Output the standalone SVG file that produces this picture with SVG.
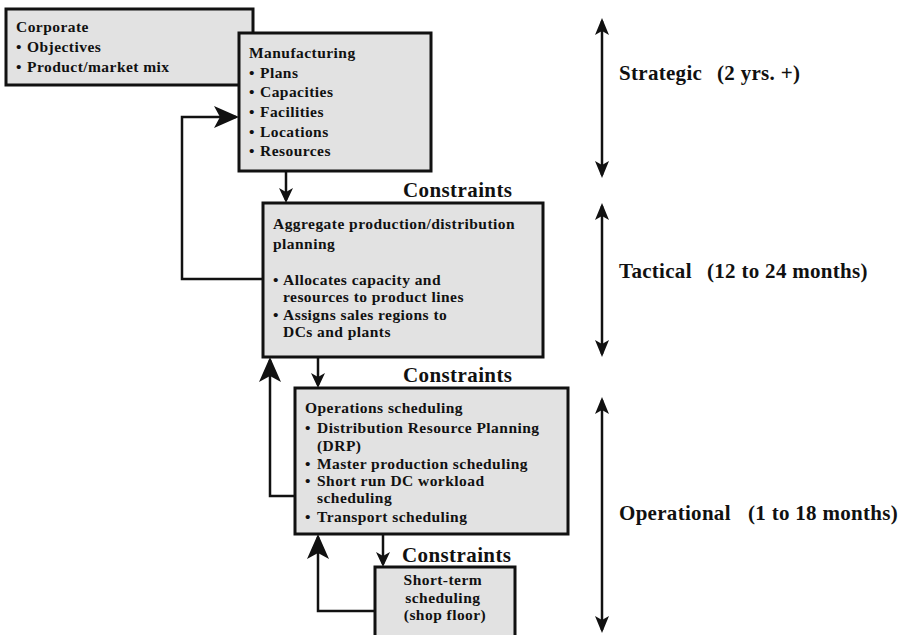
<svg xmlns="http://www.w3.org/2000/svg" width="907" height="635" viewBox="0 0 907 635">
  <style>
    .box { fill: #e2e2e2; stroke: #111; stroke-width: 3; }
    .t { font-family: "Liberation Serif", "Times New Roman", serif; font-weight: bold; font-size: 15.5px; letter-spacing: 0.45px; fill: #111; }
    .big { font-family: "Liberation Serif", "Times New Roman", serif; font-weight: bold; font-size: 21px; letter-spacing: 0.3px; fill: #111; }
    .con { font-family: "Liberation Serif", "Times New Roman", serif; font-weight: bold; font-size: 21px; letter-spacing: 0.4px; fill: #111; }
    .ln { fill: none; stroke: #111; stroke-width: 2.5; }
    .mid { text-anchor: middle; }
  </style>
  <defs>
    <marker id="sm" markerUnits="userSpaceOnUse" markerWidth="16" markerHeight="14" refX="12" refY="7" orient="auto" viewBox="0 0 16 14">
      <path d="M0,0 L15,7 L0,14 L4,7 Z" fill="#111"/>
    </marker>
    <marker id="lg" markerUnits="userSpaceOnUse" markerWidth="26" markerHeight="22" refX="22" refY="11" orient="auto" viewBox="0 0 26 22">
      <path d="M0,0 L25,11 L0,22 L6,11 Z" fill="#111"/>
    </marker>
    <marker id="dm" markerUnits="userSpaceOnUse" markerWidth="18" markerHeight="14" refX="14" refY="7" orient="auto-start-reverse" viewBox="0 0 18 14">
      <path d="M0,0 L17,7 L0,14 L4,7 Z" fill="#111"/>
    </marker>
  </defs>

  <g id="corporate">
    <rect class="box" x="6" y="9" width="247" height="76"/>
    <text class="t">
      <tspan x="16" y="32">Corporate</tspan>
      <tspan x="16" y="52">•</tspan><tspan x="27" y="52">Objectives</tspan>
      <tspan x="16" y="72">•</tspan><tspan x="27" y="72">Product/market mix</tspan>
    </text>
  </g>

  <g id="manufacturing">
    <rect class="box" x="239" y="33" width="192" height="138"/>
    <text class="t">
      <tspan x="249" y="58">Manufacturing</tspan>
      <tspan x="249" y="78">•</tspan><tspan x="260" y="78">Plans</tspan>
      <tspan x="249" y="97">•</tspan><tspan x="260" y="97">Capacities</tspan>
      <tspan x="249" y="117">•</tspan><tspan x="260" y="117">Facilities</tspan>
      <tspan x="249" y="137">•</tspan><tspan x="260" y="137">Locations</tspan>
      <tspan x="249" y="156">•</tspan><tspan x="260" y="156">Resources</tspan>
    </text>
  </g>

  <g id="aggregate">
    <rect class="box" x="263" y="203" width="280" height="154"/>
    <text class="t">
      <tspan x="273" y="229">Aggregate production/distribution</tspan>
      <tspan x="273" y="249">planning</tspan>
      <tspan x="273" y="285">•</tspan><tspan x="283" y="285">Allocates capacity and</tspan>
      <tspan x="283" y="302">resources to product lines</tspan>
      <tspan x="273" y="320">•</tspan><tspan x="283" y="320">Assigns sales regions to</tspan>
      <tspan x="283" y="337">DCs and plants</tspan>
    </text>
  </g>

  <g id="operations">
    <rect class="box" x="295" y="388" width="273" height="146"/>
    <text class="t">
      <tspan x="305" y="413">Operations scheduling</tspan>
      <tspan x="305" y="433">•</tspan><tspan x="317" y="433">Distribution Resource Planning</tspan>
      <tspan x="317" y="451">(DRP)</tspan>
      <tspan x="305" y="469">•</tspan><tspan x="317" y="469">Master production scheduling</tspan>
      <tspan x="305" y="486">•</tspan><tspan x="317" y="486">Short run DC workload</tspan>
      <tspan x="317" y="503">scheduling</tspan>
      <tspan x="305" y="522">•</tspan><tspan x="317" y="522">Transport scheduling</tspan>
    </text>
  </g>

  <g id="shortterm">
    <rect class="box" x="375" y="567" width="140" height="80"/>
    <text class="t mid">
      <tspan x="445" y="585">Short-term</tspan>
      <tspan x="445" y="603">scheduling</tspan>
      <tspan x="445" y="620">(shop floor)</tspan>
    </text>
  </g>

  <g id="connectors">
    <path class="ln" d="M286,171 V200" marker-end="url(#sm)"/>
    <path class="ln" d="M318,357 V385" marker-end="url(#sm)"/>
    <path class="ln" d="M383,534 V564" marker-end="url(#sm)"/>
    <path class="ln" d="M263,279 H182 V117 H236" marker-end="url(#lg)"/>
    <path class="ln" d="M295,496 H270 V360" marker-end="url(#lg)"/>
    <path class="ln" d="M375,611 H318 V537" marker-end="url(#lg)"/>
  </g>

  <g id="constraint-labels">
    <text class="con" x="403" y="197">Constraints</text>
    <text class="con" x="403" y="382">Constraints</text>
    <text class="con" x="402" y="562">Constraints</text>
  </g>

  <g id="horizons">
    <path class="ln" d="M602,21 V175" marker-start="url(#dm)" marker-end="url(#dm)"/>
    <path class="ln" d="M602,206 V354" marker-start="url(#dm)" marker-end="url(#dm)"/>
    <path class="ln" d="M602,400 V630" marker-start="url(#dm)" marker-end="url(#dm)"/>
    <text class="big" y="80"><tspan x="619">Strategic</tspan><tspan x="717">(2 yrs. +)</tspan></text>
    <text class="big" y="278"><tspan x="619">Tactical</tspan><tspan x="707">(12 to 24 months)</tspan></text>
    <text class="big" y="520"><tspan x="619">Operational</tspan><tspan x="748">(1 to 18 months)</tspan></text>
  </g>
</svg>
